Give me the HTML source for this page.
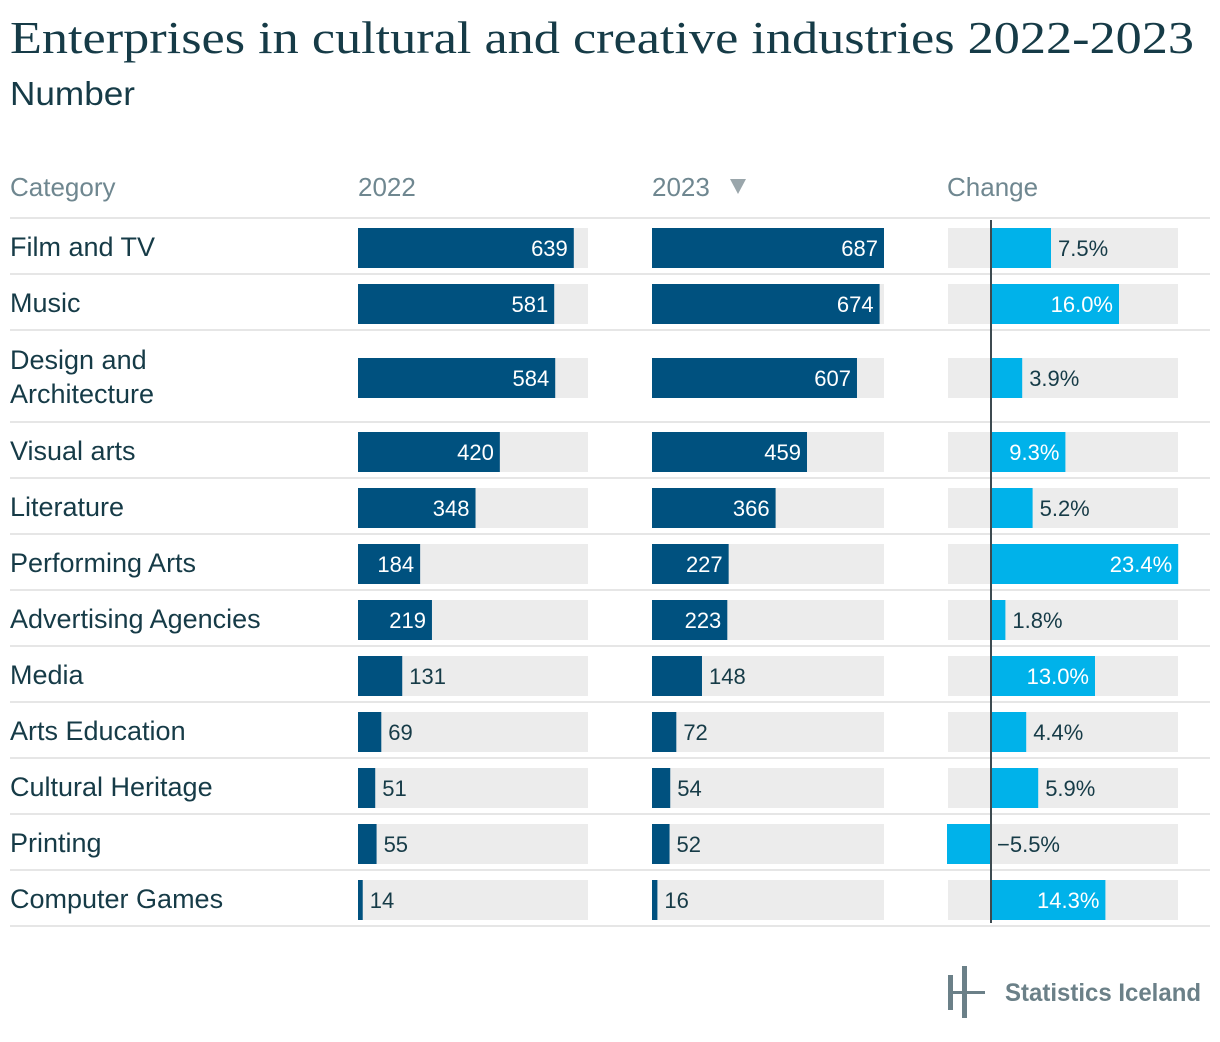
<!DOCTYPE html>
<html><head><meta charset="utf-8"><style>
html,body{margin:0;padding:0;background:#fff}
svg{display:block}
text{font-family:"Liberation Sans",sans-serif}
</style></head><body>
<svg id="chart" width="1220" height="1042" viewBox="0 0 1220 1042">
<text x="10" y="53" font-size="46" fill="#163b47" textLength="1184" lengthAdjust="spacingAndGlyphs" style="font-family:'Liberation Serif',serif">Enterprises in cultural and creative industries 2022-2023</text>
<text x="10" y="105" font-size="33" fill="#163b47" font-weight="300" textLength="125" lengthAdjust="spacingAndGlyphs">Number</text>
<text x="10" y="196" font-size="26" fill="#6f8790">Category</text>
<text x="358" y="196" font-size="26" fill="#6f8790">2022</text>
<text x="652" y="196" font-size="26" fill="#6f8790">2023</text>
<polygon points="730,179 746,179 738,194" fill="#9aa6ab"/>
<text x="947" y="196" font-size="26" fill="#6f8790">Change</text>
<line x1="10" y1="218" x2="1210" y2="218" stroke="#e6e6e6" stroke-width="2"/>
<g id="rows"></g>
<line x1="991" y1="220" x2="991" y2="923" stroke="#3d4a50" stroke-width="2"/>
<g>
<rect x="948" y="975" width="5" height="35" fill="#6b8088"/>
<rect x="962" y="966" width="5" height="52" fill="#6b8088"/>
<rect x="948" y="991" width="37" height="3" fill="#6b8088"/>
<text x="1005" y="1001" font-size="25" font-weight="bold" fill="#6b8088" textLength="196" lengthAdjust="spacingAndGlyphs">Statistics Iceland</text>
</g>
</svg>
<script>
const categories = ["Film and TV","Music","Design and|Architecture","Visual arts","Literature","Performing Arts","Advertising Agencies","Media","Arts Education","Cultural Heritage","Printing","Computer Games"];
const values2022 = [639,581,584,420,348,184,219,131,69,51,55,14];
const values2023 = [687,674,607,459,366,227,223,148,72,54,52,16];
const changeLabels = ["7.5%","16.0%","3.9%","9.3%","5.2%","23.4%","1.8%","13.0%","4.4%","5.9%","\u22125.5%","14.3%"];
const changeValues = [7.5,16.0,3.9,9.3,5.2,23.4,1.8,13.0,4.4,5.9,-5.5,14.3];

const NS = "http://www.w3.org/2000/svg";
const g = document.getElementById("rows");
const scaleN = v => v * 232 / 687;
const xChange = v => 991 + v * 8.0;
function mk(tag, attrs){ const e = document.createElementNS(NS, tag); for (const k in attrs) e.setAttribute(k, attrs[k]); g.appendChild(e); return e; }

let y = 218;
categories.forEach((cat, i) => {
  const two = cat.includes("|");
  const h = two ? 92 : 56;
  const cy = y + h / 2 + 2;
  const lines = cat.split("|");
  lines.forEach((ln, j) => {
    const t = mk("text", {x: 10, y: cy + 8 + (lines.length > 1 ? (j === 0 ? -17 : 17) : 0), "font-size": 27, fill: "#163b47"});
    
    
    t.textContent = ln;
  });
  [[358, 230, values2022[i], "2022"], [652, 232, values2023[i], "2023"]].forEach(([x0, w, v, yr]) => {
    const bg = mk("rect", {x: x0, y: cy - 20, width: w, height: 40, fill: "#ececec"});
    
    
    const bw = scaleN(v);
    const b = mk("rect", {x: x0, y: cy - 20, width: bw, height: 40, fill: "#00517f"});
    
    
    const inside = bw > 60;
    const t = mk("text", {x: inside ? x0 + bw - 6 : x0 + bw + 7, y: cy + 8, "font-size": 22, fill: inside ? "#fff" : "#163b47", "text-anchor": inside ? "end" : "start"});
    
    
    t.textContent = v;
  });
  const bg = mk("rect", {x: 948, y: cy - 20, width: 230, height: 40, fill: "#ececec"});
  
  
  const cv = changeValues[i];
  const x1 = xChange(Math.min(0, cv)), x2 = xChange(Math.max(0, cv));
  const b = mk("rect", {x: x1, y: cy - 20, width: x2 - x1, height: 40, fill: "#00b2ea"});
  
  
  const inside = cv > 8;
  const tx = cv < 0 ? 997 : (inside ? x2 - 6 : x2 + 7);
  const t = mk("text", {x: tx, y: cy + 8, "font-size": 22, fill: inside ? "#fff" : "#163b47", "text-anchor": inside ? "end" : "start"});
  
  
  t.textContent = changeLabels[i];
  y += h;
  const r = mk("line", {x1: 10, y1: y, x2: 1210, y2: y, stroke: "#e6e6e6", "stroke-width": 2});
  
  
});
</script>
</body></html>
